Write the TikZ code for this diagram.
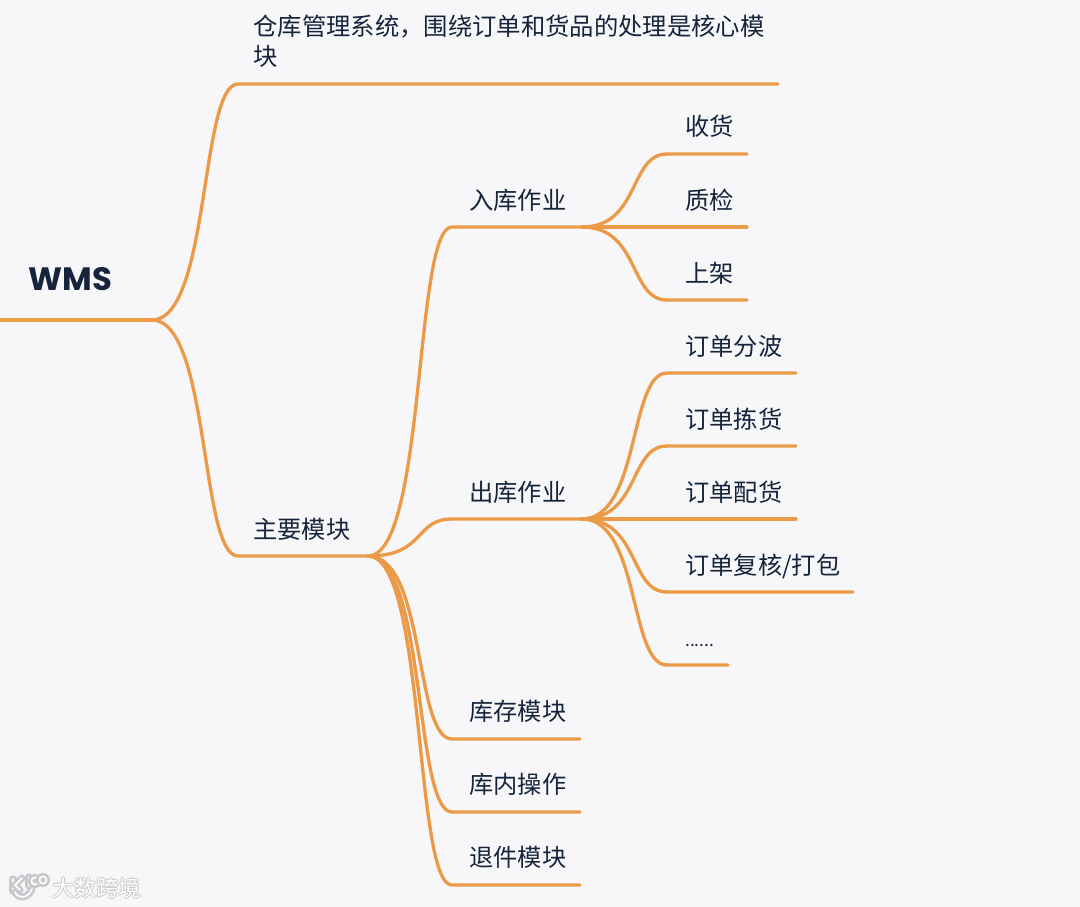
\documentclass[tikz,border=0pt]{standalone}
\usepackage{fontspec}
\setmainfont{Noto Sans CJK SC}
\newfontfamily\wmsfont{Poppins}
\definecolor{mapbg}{HTML}{F7F7FA}
\definecolor{mapline}{HTML}{EB9B47}
\definecolor{mapink}{HTML}{15243C}
\definecolor{markedge}{HTML}{C9C9CD}

\tikzset{
  topic/.style={anchor=base west,inner sep=0pt,text=mapink,font=\fontsize{13.8}{17.6}\selectfont},
  branch/.style={draw=mapline,line width=1.9pt,line cap=round,
    to path={.. controls +(58,0) and +(-38,0) .. (\tikztotarget)}},
  markstroke/.style={draw=markedge,line width=1.5pt,double=white,double distance=1pt,line cap=round},
}

\begin{document}
\begin{tikzpicture}[x=0.02cm,y=-0.02cm]

\path[use as bounding box,fill=mapbg] (0,0) rectangle (1080,907);

\node[topic,text width=11.5cm,font=\fontsize{13.85}{17.6}\selectfont] (cangku) at (253,35) {仓库管理系统，围绕订单和货品的处理是核心模\\块};
\node[topic,font=\wmsfont\bfseries\fontsize{18.4}{22}\selectfont] (wms) at (28,290) {WMS};
\node[topic] (zhuyao) at (253,538) {主要模块};

\node[topic] (ruku) at (469,209) {入库作业};
\node[topic] (chuku) at (469,501) {出库作业};
\node[topic] (kucun) at (469,720) {库存模块};
\node[topic] (kunei) at (469,793) {库内操作};
\node[topic] (tuijian) at (469,866) {退件模块};

\node[topic] (shouhuo) at (685,135) {收货};
\node[topic] (zhijian) at (685,209) {质检};
\node[topic] (shangjia) at (685,282) {上架};

\node[topic] (fenbo) at (685,355) {订单分波};
\node[topic] (jianhuo) at (685,428) {订单拣货};
\node[topic] (peihuo) at (685,501) {订单配货};
\node[topic] (fuhe) at (685,574) {订单复核/打包};
\node[topic,font=\fontsize{9.8}{12}\selectfont] (more) at (685,646) {......};

% junctions
\coordinate (rootin) at (0,320);
\coordinate (root) at (152,320);
\coordinate (mainjoin) at (368,556);
\coordinate (rukujoin) at (582,227);
\coordinate (chukujoin) at (582,519);

% underlines, start and end
\coordinate (cangkua) at (238,84);
\coordinate (cangkub) at (778,84);
\coordinate (zhuyaoa) at (238,556);
\coordinate (rukua) at (452,227);
\coordinate (chukua) at (452,519);
\coordinate (kucuna) at (452,739);
\coordinate (kucunb) at (580,739);
\coordinate (kuneia) at (452,812);
\coordinate (kuneib) at (580,812);
\coordinate (tuijiana) at (452,885);
\coordinate (tuijianb) at (580,885);
\coordinate (shouhuoa) at (667,154);
\coordinate (shouhuob) at (747,154);
\coordinate (zhijiana) at (667,227);
\coordinate (zhijianb) at (747,227);
\coordinate (shangjiaa) at (667,300);
\coordinate (shangjiab) at (747,300);
\coordinate (fenboa) at (667,373);
\coordinate (fenbob) at (796,373);
\coordinate (jianhuoa) at (667,446);
\coordinate (jianhuob) at (796,446);
\coordinate (peihuoa) at (667,519);
\coordinate (peihuob) at (796,519);
\coordinate (fuhea) at (667,592);
\coordinate (fuheb) at (853,592);
\coordinate (morea) at (667,665);
\coordinate (moreb) at (728,665);

\draw[branch] (rootin) -- (root);
\draw[branch] (root) to (cangkua) -- (cangkub);
\draw[branch] (root) to (zhuyaoa) -- (mainjoin);

\draw[branch] (mainjoin) to (rukua) -- (rukujoin);
\draw[branch] (mainjoin) to (chukua) -- (chukujoin);
\draw[branch] (mainjoin) to (kucuna) -- (kucunb);
\draw[branch] (mainjoin) to (kuneia) -- (kuneib);
\draw[branch] (mainjoin) to (tuijiana) -- (tuijianb);

\draw[branch] (rukujoin) to (shouhuoa) -- (shouhuob);
\draw[branch] (rukujoin) to (zhijiana) -- (zhijianb);
\draw[branch] (rukujoin) to (shangjiaa) -- (shangjiab);

\draw[branch] (chukujoin) to (fenboa) -- (fenbob);
\draw[branch] (chukujoin) to (jianhuoa) -- (jianhuob);
\draw[branch] (chukujoin) to (peihuoa) -- (peihuob);
\draw[branch] (chukujoin) to (fuhea) -- (fuheb);
\draw[branch] (chukujoin) to (morea) -- (moreb);

% watermark
\draw[markstroke] (13,879) -- (13,891);
\draw[markstroke] (22,878) -- (15,885) -- (20,890);
\draw[markstroke] (15,892) .. controls (18,899) and (28,899) .. (32,889);
\draw[markstroke] (29,877) -- (29,886);
\draw[markstroke] (35,881) circle (3.6);
\draw[markstroke] (43,880) circle (3.6);
\foreach \dx/\dy in {-1/0,1/0,0/-1,0/1}
  \node[topic,text=markedge,font=\fontsize{12.6}{15}\selectfont] at (52+\dx,896+\dy) {大数跨境};
\node[topic,text=white,font=\fontsize{12.6}{15}\selectfont] (mark) at (52,896) {大数跨境};

\end{tikzpicture}
\end{document}
